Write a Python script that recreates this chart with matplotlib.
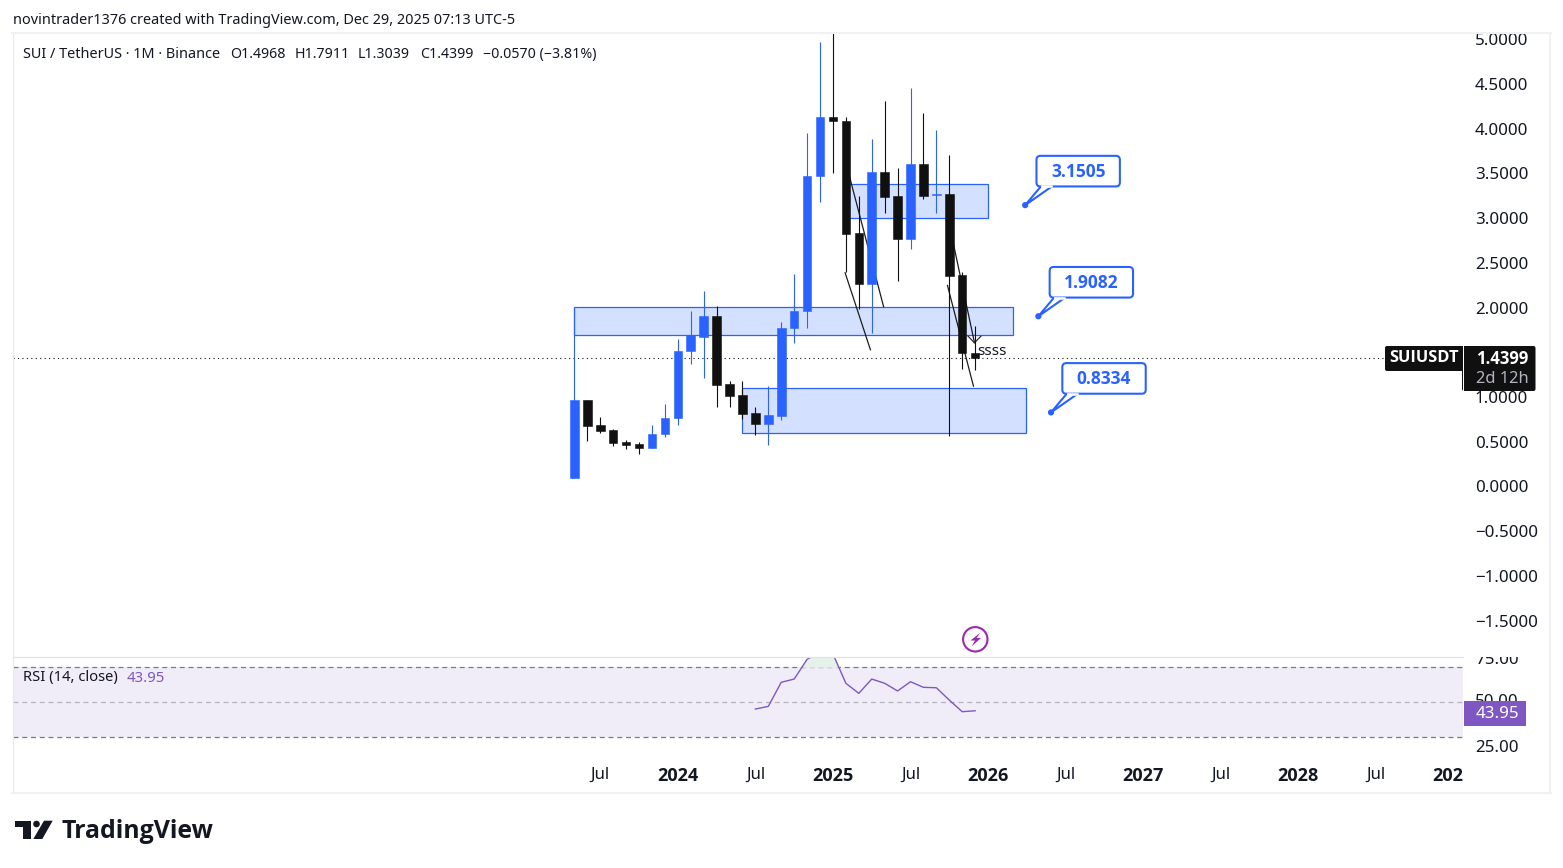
import matplotlib
matplotlib.use('Agg')
from matplotlib import pyplot as plt
from matplotlib.patches import Rectangle, Polygon, Circle, FancyBboxPatch
from matplotlib.transforms import Bbox

W, H = 1563, 868
BLUE = '#2962ff'
BLACK = '#101010'
TEXT = '#131722'
PURPLE = '#7e57c2'
FONT = 'Noto Sans'
BOLD = ['Open Sans', 'DejaVu Sans']

plt.rcParams['font.family'] = [FONT, 'DejaVu Sans']

# monthly candles, May 2023 = 0
candle_open = [0.09, 0.97, 0.682, 0.626, 0.492, 0.47, 0.428, 0.585, 0.763, 1.512, 1.669, 1.911,
               1.14, 1.017, 0.816, 0.696, 0.786, 1.77, 1.96, 3.469, 4.125, 4.09, 2.828, 2.26,
               3.51, 3.242, 2.764, 3.61, 3.26, 3.264, 2.36, 1.4968]
candle_high = [2.0, 0.97, 0.782, 0.648, 0.514, 0.5, 0.682, 0.917, 1.643, 1.967, 2.18, 2.023,
               1.174, 1.174, 0.894, 1.118, 1.844, 2.37, 3.946, 4.963, 5.35, 4.125, 3.25, 3.88,
               4.304, 3.555, 4.449, 4.18, 3.98, 3.71, 2.403, 1.7911]
candle_low = [0.09, 0.506, 0.596, 0.45, 0.417, 0.361, 0.428, 0.551, 0.685, 1.367, 1.211, 0.886,
              0.886, 0.749, 0.573, 0.462, 0.741, 1.60, 1.77, 3.178, 3.5, 2.396, 1.98, 1.714,
              3.055, 2.295, 2.65, 3.208, 3.06, 0.562, 1.311, 1.3039]
candle_close = [0.97, 0.674, 0.618, 0.484, 0.462, 0.428, 0.592, 0.771, 1.52, 1.688, 1.911, 1.132,
                1.009, 0.808, 0.696, 0.794, 1.777, 1.967, 3.476, 4.125, 4.083, 2.82, 2.26, 3.51,
                3.234, 2.764, 3.61, 3.245, 3.27, 2.35, 1.49, 1.4399]

# drawn rectangles: start, end, low, high
zone_start = [21.0, 0.0, 12.97]
zone_end = [31.97, 33.9, 34.9]
zone_low = [3.004, 1.688, 0.60]
zone_high = [3.385, 2.01, 1.103]

# drawn trend lines
trend_x = [(21.2, 23.92), (20.94, 22.9), (29.0, 30.95), (28.86, 30.87)]
trend_y = [(3.51, 2.009), (2.389, 1.528), (2.93, 1.606), (2.247, 1.121)]

callout_x = [34.87, 35.89, 36.87]
callout_price = [3.1505, 1.9082, 0.8334]
callout_text = ['3.1505', '1.9082', '0.8334']

rsi_x = list(range(14, 32))
rsi_values = [45.2, 47.1, 64.3, 66.6, 80.7, 85.9, 84.5, 63.6, 56.4, 66.6, 63.6, 58.1, 64.7,
              60.7, 60.4, 51.6, 43.3, 43.95]

price_ticks = [5, 4.5, 4, 3.5, 3, 2.5, 2, 1, 0.5, 0, -0.5, -1, -1.5]
price_labels = ['5.0000', '4.5000', '4.0000', '3.5000', '3.0000', '2.5000', '2.0000', '1.0000',
                '0.5000', '0.0000', '\u22120.5000', '\u22121.0000', '\u22121.5000']
rsi_tick_pos = [81.6, 51.6, 18.8]
rsi_tick_labels = ['75.00', '50.00', '25.00']
time_ticks = [2, 8, 14, 20, 26, 32, 38, 44, 50, 56, 62, 67.6]
time_labels = ['Jul', '2024', 'Jul', '2025', 'Jul', '2026', 'Jul', '2027', 'Jul', '2028', 'Jul', '202']

legend_parts = ['O1.4968', 'H1.7911', 'L1.3039', 'C1.4399', '\u22120.0570 (\u22123.81%)']
legend_x = [230, 295, 358, 420, 483]


def px_axes(left, top, right, bottom):
    return fig.add_axes([left / W, 1 - bottom / H, (right - left) / W, (bottom - top) / H])


fig = plt.figure(figsize=(W / 100, H / 100), dpi=100, facecolor='white')
ax = px_axes(13, 34, 1463, 656)
rsi_ax = px_axes(13, 657, 1463, 760)
over = fig.add_axes([0, 0, 1, 1])
over.set_xlim(0, W)
over.set_ylim(H, 0)
over.axis('off')
over.patch.set_alpha(0)

xlim = (-43.43, 68.74)
ax.set_xlim(*xlim)
ax.set_ylim(-1.895, 5.058)
rsi_ax.set_xlim(*xlim)
rsi_ax.set_ylim(8.8, 82.36)

# zones
for s, e, lo, hi in zip(zone_start, zone_end, zone_low, zone_high):
    ax.add_patch(Rectangle((s, lo), e - s, hi - lo, facecolor='#d3e0ff', edgecolor=BLUE,
                           linewidth=0.9, zorder=1))

for xs, ys in zip(trend_x, trend_y):
    ax.plot(xs, ys, color='#1c1c1c', lw=0.9, zorder=2)

ax.axhline(candle_close[-1], color='#111111', lw=0.8, ls=(0, (1, 3)), zorder=2)

# candles
idx = list(range(len(candle_open)))
colors = [BLUE if c >= o else BLACK for o, c in zip(candle_open, candle_close)]
ax.vlines(idx, candle_low, candle_high, colors=colors, lw=0.8, zorder=3, snap=True)
bottoms = [min(o, c) for o, c in zip(candle_open, candle_close)]
heights = [abs(o - c) for o, c in zip(candle_open, candle_close)]
ax.bar(idx, heights, bottom=bottoms, width=0.66, color=colors, edgecolor=colors, linewidth=0.4, zorder=4)

# arrow head on the third trend line
ax.plot([30.45, 30.95, 31.45], [1.68, 1.606, 1.68], color='#1c1c1c', lw=0.8, zorder=5)
ax.text(31.2, 1.505, 'ssss', fontsize=11, color=TEXT, va='center', ha='left', zorder=6)

ax.yaxis.tick_right()
ax.set_yticks(price_ticks)
ax.set_yticklabels(price_labels, ha='left', fontsize=12.2, color=TEXT)
ax.tick_params(axis='y', length=0, pad=8.6)
ax.set_xticks([])
for s in ax.spines.values():
    s.set_visible(False)
ax.patch.set_alpha(0)

# rsi pane
rsi_ax.axhspan(25, 75, facecolor=PURPLE, alpha=0.1, lw=0, zorder=0)
rsi_ax.axhline(75, color='#787b86', lw=0.9, ls=(0, (4, 3)), zorder=1)
rsi_ax.axhline(25, color='#787b86', lw=0.9, ls=(0, (4, 3)), zorder=1)
rsi_ax.axhline(50, color='#787b86', lw=0.9, ls=(0, (4, 3)), alpha=0.5, zorder=1)
rsi_ax.fill_between(rsi_x, rsi_values, 75, where=[v > 75 for v in rsi_values], interpolate=True,
                    color='#e4f2e9', lw=0, zorder=1.5)
rsi_ax.plot(rsi_x, rsi_values, color=PURPLE, lw=1.0, zorder=3)
rsi_ax.yaxis.tick_right()
rsi_ax.set_yticks(rsi_tick_pos)
rsi_ax.set_yticklabels(rsi_tick_labels, ha='left', fontsize=12.2, color=TEXT)
rsi_ax.tick_params(axis='y', length=0, pad=8.6)
rsi_ax.set_xticks(time_ticks)
rsi_ax.set_xticklabels(time_labels, fontsize=12, color=TEXT)
rsi_ax.tick_params(axis='x', length=0, pad=5)
for lab in rsi_ax.get_xticklabels():
    if lab.get_text() != 'Jul':
        lab.set_fontweight('bold')
        lab.set_family(BOLD)
        lab.set_fontsize(13)
for lab in rsi_ax.get_yticklabels():
    lab.set_clip_on(True)
    lab.set_clip_box(Bbox.from_extents(1463, H - 760, W, H - 656.5))
for s in rsi_ax.spines.values():
    s.set_visible(False)
rsi_ax.patch.set_alpha(0)

# frame
for xs, ys, c, lw in [((12.5, 12.5), (34, 793), '#e8e9ec', 0.8), ((1550, 1550), (33, 793), '#f0f1f3', 1.5),
                      ((12, 1551), (33, 33), '#f0f1f3', 1.5), ((12, 1551), (793, 793), '#f0f1f3', 1.5),
                      ((13, 1463), (656.5, 656.5), '#e0e3eb', 0.9)]:
    over.plot(xs, ys, color=c, lw=lw)

# callouts are placed from their anchor point
for cx, cp, txt in zip(callout_x, callout_price, callout_text):
    dx, dy = ax.transData.transform((cx, cp))
    dy = H - dy + 0.5
    left, right, top, bottom = dx + 11.3, dx + 94.7, dy - 49.3, dy - 18.7
    over.add_patch(FancyBboxPatch((left + 3, top + 3), right - left - 6, bottom - top - 6,
                                  boxstyle='round,pad=3,rounding_size=4', facecolor='white',
                                  edgecolor=BLUE, lw=1.5, zorder=10))
    over.add_patch(Polygon([(left + 4.4, bottom), (dx, dy), (left + 15.4, bottom)], closed=False,
                           facecolor='white', edgecolor=BLUE, lw=1.5, zorder=11))
    over.plot([left + 5.4, left + 14.4], [bottom, bottom], color='white', lw=1.8, zorder=12)
    over.add_patch(Circle((dx, dy), 2.4, color=BLUE, zorder=12))
    over.text((left + right) / 2, (top + bottom) / 2 + 0.5, txt, color=BLUE, fontsize=12.5,
              fontweight='bold', family=BOLD, ha='center', va='center', zorder=13)

# last price labels
over.add_patch(FancyBboxPatch((1387, 348), 76, 21, boxstyle='round,pad=2,rounding_size=2',
                              facecolor='#101010', edgecolor='none', zorder=10))
over.add_patch(FancyBboxPatch((1464, 348), 69.5, 41, boxstyle='round,pad=2,rounding_size=2',
                              facecolor='#101010', edgecolor='none', zorder=10))
over.add_patch(Rectangle((1463, 346), 1, 45, facecolor='white', edgecolor='none', zorder=11))
over.text(1424, 358.5, 'SUIUSDT', color='white', fontsize=11.8, fontweight='bold', family=BOLD, ha='center', va='center', zorder=12)
over.text(1476, 358.5, '1.4399', color='white', fontsize=12, fontweight='bold', family=BOLD, ha='left', va='center', zorder=12)
over.text(1476, 379, '2d 12h', color='#b2b5be', fontsize=11.8, ha='left', va='center', zorder=12)
over.add_patch(Rectangle((1464, 701), 62, 25, facecolor=PURPLE, edgecolor='none', zorder=10))
over.text(1476, 713.5, '43.95', color='white', fontsize=12.2, ha='left', va='center', zorder=12)

# header and legends
over.text(13, 20.5, 'novintrader1376 created with TradingView.com, Dec 29, 2025 07:13 UTC-5',
          color=TEXT, fontsize=10.4, va='center')
over.text(23, 54.5, 'SUI / TetherUS \u00b7 1M \u00b7 Binance', color=TEXT, fontsize=10.4, va='center')
for part, lx in zip(legend_parts, legend_x):
    over.text(lx, 54.5, part, color=TEXT, fontsize=10.2, va='center')
over.text(23, 678, 'RSI (14, close)', color=TEXT, fontsize=10.6, va='center')
over.text(127, 678, '43.95', color=PURPLE, fontsize=10.8, va='center')

# lightning marker
over.add_patch(Circle((975.3, 639.3), 12.2, facecolor='white', edgecolor='#9c27b0', lw=1.5, zorder=5))
over.add_patch(Polygon([(980.5, 632.5), (970.5, 640.5), (975, 640.5), (971.5, 646.5), (981, 638), (976.5, 638)],
                       facecolor='#9c27b0', edgecolor='none', zorder=6))

# logo
LOGO = '#131722'
over.add_patch(Polygon([(15.3, 820.7), (31, 820.7), (31, 839), (22.7, 839), (22.7, 827.3), (15.3, 827.3)],
                       facecolor=LOGO, edgecolor='none'))
over.add_patch(Circle((36.5, 824), 3.3, facecolor=LOGO, edgecolor='none'))
over.add_patch(Polygon([(44, 820.7), (52.7, 820.7), (42.3, 839), (33.3, 839)], facecolor=LOGO, edgecolor='none'))
over.text(61.5, 831, 'TradingView', color=LOGO, fontsize=17.9, fontweight='bold', va='center',
          family=BOLD)

fig.savefig('out.png', dpi=100, facecolor='white')
